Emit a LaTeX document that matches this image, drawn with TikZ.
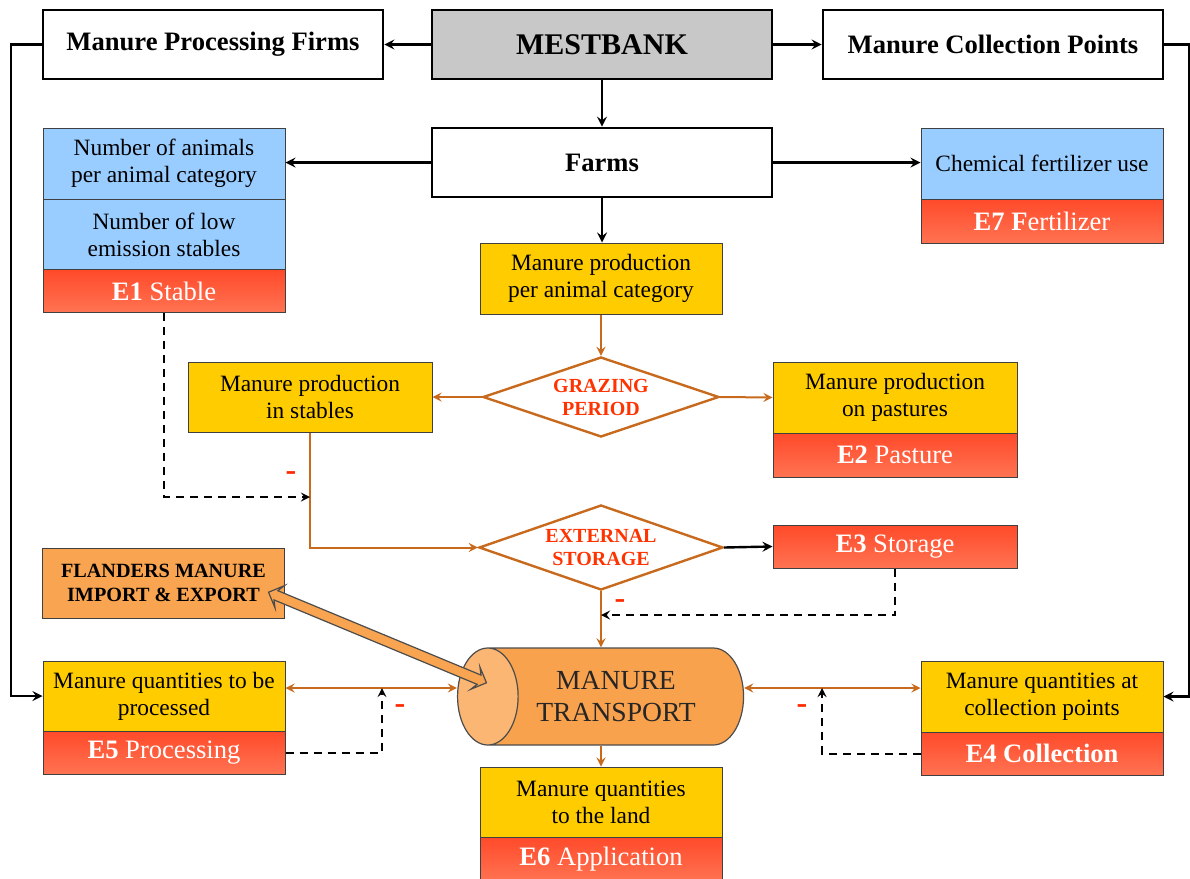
\documentclass[tikz,border=0pt]{standalone}
\usepackage{fontspec}
\setmainfont{Liberation Serif}
\usepackage{xcolor}
\usetikzlibrary{shapes,shapes.geometric,shapes.arrows}
\definecolor{blu}{HTML}{99CCFF}
\definecolor{yel}{HTML}{FFCC00}
\definecolor{flowline}{HTML}{C86A1E}
\definecolor{ered}{HTML}{FF4A2A}
\definecolor{ered2}{HTML}{FF7352}
\definecolor{greybox}{HTML}{C8C8C8}
\definecolor{fland}{HTML}{F9A450}
\definecolor{cylbody}{HTML}{F9A24E}
\definecolor{cylend}{HTML}{FBB673}
\definecolor{minred}{HTML}{FF2A00}
\definecolor{dtext}{HTML}{FF3300}
\tikzset{mainbox/.style={draw,line width=1.3pt,fill=white,minimum width=170pt,minimum height=34.5pt,font=\fontsize{13.3}{15}\selectfont\bfseries},
  infobox/.style={draw=black!75,line width=0.5pt,minimum width=121pt,minimum height=35.5pt,align=center,inner sep=1pt,font=\fontsize{11.7}{13.5}\selectfont},
  bluebox/.style={infobox,fill=blu},
  yelbox/.style={infobox,fill=yel},
  ebox/.style={draw=black!75,line width=0.5pt,top color=ered,bottom color=ered2,text=white,minimum width=121pt,minimum height=21.5pt,inner sep=0pt,font=\fontsize{13.3}{15}\selectfont},
  choice/.style={diamond,draw=flowline,line width=1.2pt,fill=white,aspect=3,inner sep=0pt,align=center,text=dtext,font=\fontsize{10}{11.5}\selectfont\bfseries},
  minussign/.style={text=minred,font=\fontsize{16}{16}\selectfont\bfseries,inner sep=0pt},
  blk/.style={->,line width=1.2pt},
  flow/.style={->,draw=flowline,line width=1pt},
  fb/.style={->,line width=1pt,dash pattern=on 4pt off 3pt}}

\begin{document}
\begin{tikzpicture}[>=stealth,x=0.5pt,y=-0.5pt]
    \useasboundingbox (0,0) rectangle (1190,879);

    \node[mainbox,fill=greybox,font=\fontsize{15}{17}\selectfont\bfseries] (mest) at (602,44.5) {MESTBANK};
    \node[mainbox] (firms) at (213,44.5) {Manure Processing Firms};
    \node[mainbox] (collpts) at (993,44.5) {Manure Collection Points};
    \node[mainbox] (farms) at (602,162.5) {Farms};

    \node[bluebox] (numanim) at (164,163.5) {Number of animals\\per animal category};
    \node[bluebox] (numlow) at (164,234.5) {Number of low\\emission stables};
    \node[ebox] (e1) at (164,291) {\textbf{E1} Stable};
    \node[bluebox] (chem) at (1042,163.5) {Chemical fertilizer use};
    \node[ebox,minimum height=22pt] (e7) at (1042,221) {\textbf{E7 F}ertilizer};

    \node[yelbox] (prodcat) at (601,278.5) {Manure production\\per animal category};
    \node[choice,minimum width=118pt,minimum height=40pt] (graze) at (601,397) {GRAZING\\PERIOD};
    \node[yelbox,minimum width=122pt,minimum height=35pt] (instable) at (310,397) {Manure production\\in stables};
    \node[yelbox,minimum width=122pt] (pasture) at (895,397.5) {Manure production\\on pastures};
    \node[ebox,minimum width=122pt,minimum height=22pt] (e2) at (895,455) {\textbf{E2} Pasture};

    \node[choice,minimum width=122pt,minimum height=42.5pt] (extstor) at (601,547.5) {EXTERNAL\\STORAGE};
    \node[ebox,minimum width=122pt] (e3) at (895,546.5) {\textbf{E3} Storage};
    \node[infobox,fill=fland,minimum height=35pt,font=\fontsize{10.1}{12}\selectfont\bfseries] (flanders) at (163.5,583) {FLANDERS MANURE\\IMPORT \& EXPORT};

    \node[cylinder,shape border rotate=180,aspect=1.2,draw=black!70,line width=0.6pt,cylinder uses custom fill,cylinder body fill=cylbody,cylinder end fill=cylend,minimum height=143pt,minimum width=48.5pt,inner sep=0pt,align=center,text=black!85,font=\fontsize{13.8}{16}\selectfont] (transport) at (616,696.5) {MANURE\\TRANSPORT};

    \node[yelbox,minimum height=35pt] (toproc) at (164,696) {Manure quantities to be\\processed};
    \node[ebox] (e5) at (164,752.5) {\textbf{E5} Processing};
    \node[yelbox] (atcoll) at (1042,696.5) {Manure quantities at\\collection points};
    \node[ebox] (e4) at (1042,753.5) {\textbf{E4 Collection}};
    \node[yelbox,minimum height=35pt] (toland) at (601,802) {Manure quantities\\to the land};
    \node[ebox,minimum height=22pt] (e6) at (601,859) {\textbf{E6} Application};

    \node[minussign] (minus1) at (291,476) {-};
    \node[minussign] (minus3) at (620,604) {-};
    \node[minussign] (minus5) at (400,709) {-};
    \node[minussign] (minus4) at (802,709) {-};

    \coordinate (m1) at (310,497);
    \coordinate (m3) at (601,615);
    \coordinate (m5) at (382,688);
    \coordinate (m4) at (822,688);
    \coordinate (ftip) at (268,592);
    \coordinate (ttip) at (487,683);

    \draw [blk] (mest) to (firms);
    \draw [blk] (mest) to (collpts);
    \draw [blk] (mest) to (farms);
    \draw [blk] (firms.west) -- ++(-31,0) |- (toproc.west);
    \draw [blk] (collpts.east) -- ++(25,0) |- (atcoll.east);
    \draw [blk] (farms.west) to (farms.west -| numanim.east);
    \draw [blk] (farms.east) to (farms.east -| chem.west);
    \draw [blk] (farms.south) to (farms.south |- prodcat.north);
    \draw [flow] (prodcat) to (graze);
    \draw [flow] (graze.west) to (instable.east);
    \draw [flow] (graze.east) to (pasture.west);
    \draw [flow] (instable.south) |- (extstor.west);
    \draw [blk] (extstor.east) to (e3.west);
    \draw [flow] (extstor.south) to (extstor.south |- transport.north);
    \draw [flow] (toland.north |- transport.south) to (toland.north);
    \draw [flow,<->] (toproc.east |- m5) to (transport.west |- m5);
    \draw [flow,<->] (transport.east |- m4) to (atcoll.west |- m4);
    \draw [fb] (e1) |- (m1);
    \draw [fb] (e3) |- (m3);
    \draw [fb] (e5) -| (m5);
    \draw [fb] (e4) -| (m4);
    \path (ftip) -- node[sloped,double arrow,draw=black!70,line width=0.6pt,fill=fland,minimum height=118pt,inner xsep=0pt,inner ysep=2.2pt,double arrow head extend=3.5pt,double arrow head indent=2pt]{} (ttip);
\end{tikzpicture}
\end{document}
